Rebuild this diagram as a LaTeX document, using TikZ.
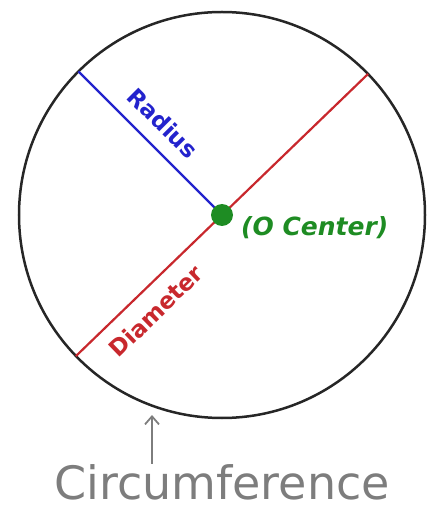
\documentclass[tikz,border=0pt]{standalone}
\usepackage{fontspec}
\setmainfont{DejaVu Sans}
\usetikzlibrary{arrows.meta,positioning}
\definecolor{radblue}{RGB}{35,35,205}
\definecolor{diared}{RGB}{200,40,45}
\definecolor{cengreen}{RGB}{30,140,35}
\definecolor{circgrey}{RGB}{125,125,125}
\tikzset{
  rim/.style={line width=2.5pt,black!85},
  radline/.style={line width=2.2pt,radblue},
  dialine/.style={line width=2.2pt,diared},
  lbl/.style={font=\bfseries\fontsize{23}{23}\selectfont,inner sep=0pt},
  dot/.style={circle,fill=cengreen,minimum size=22pt,inner sep=0pt},
}

\begin{document}
\begin{tikzpicture}[x=1pt,y=1pt]
   \useasboundingbox (-222,-290) rectangle (208,215);
   \path
    (0,0) coordinate (O)
    (0,0)+(135:203pt) coordinate (r1)
    (0,0)+(44:203pt) coordinate (d1)
    (0,0)+(224:203pt) coordinate (d2)
    (-70,-200) coordinate (tip)
    ;

    % the circle
    \draw[rim] (O) circle (203pt);

    % diameter and radius
    \draw[dialine] (d2) to (d1);
    \draw[radline] (O) to (r1);

    % center point
    \node[dot] (ctr) at (O) {};

    % labels
    \node[lbl,radblue,rotate=-45] (radlbl) at (-59,92) {Radius};
    \node[lbl,diared,rotate=44] (dialbl) at (-66,-96) {Diameter};
    \node[lbl,cengreen,anchor=west,font=\bfseries\itshape\fontsize{25}{25}\selectfont] (cenlbl) at (19,-13) {(O Center)};
    \node[circgrey,inner sep=0pt,text depth=0pt,anchor=base,font=\fontsize{46}{46}\selectfont] (circlbl) at (0,-284) {Circumference};

    % arrow up to the rim
    \draw[circgrey,line width=1.8pt,-{Straight Barb[length=8pt,width=14pt]}] (circlbl.north -| tip) -- (tip);

\end{tikzpicture}
\end{document}
